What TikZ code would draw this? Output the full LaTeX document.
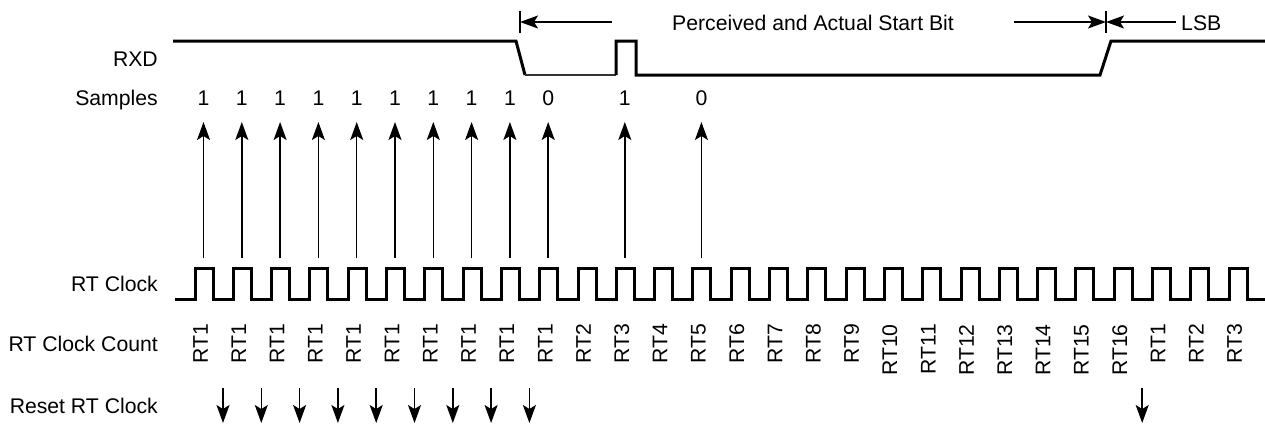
\documentclass[tikz,border=0pt]{standalone}
\usepackage{fontspec}
\setmainfont{Liberation Sans}
\usetikzlibrary{arrows.meta}
\begin{document}
\begin{tikzpicture}[x=1pt,y=-1pt,
  lbl/.style={font=\fontsize{21.2}{25}\selectfont, inner sep=0pt},
  wave/.style={line width=3pt, line join=miter},
  arr/.style={line width=1.5pt, -{Stealth[length=18pt,width=13pt,inset=4pt]}},
  tick/.style={line width=2pt},
]
\useasboundingbox (0,0) rectangle (1265,424);
\def\per{38.3}
\def\xo{195}
% row labels
\node[lbl, anchor=base east] (rxd) at (158,66.7) {RXD};
\node[lbl, anchor=base east] (smp) at (158,105) {Samples};
\node[lbl, anchor=base east] (rtc) at (158,291) {RT Clock};
\node[lbl, anchor=base east] (rtcc) at (158,351.7) {RT Clock Count};
\node[lbl, anchor=base east] (rst) at (158,413) {Reset RT Clock};
% RXD waveform
\draw[wave] (173,41) -- (516,41) -- (525,75);
\draw[line width=1.6pt, black!80] (525,75) -- (616,75);
\draw[wave] (616,75) -- (616,41) -- (636,41) -- (636,75) -- (1100,75) -- (1111,41) -- (1265,41);
% RT clock
\draw[wave] (175,299) \foreach \k in {0,...,27}{ -- ({\xo+\k*\per},299) -- ++(0,-31) -- ++(18,0) -- ++(0,31) } -- (1265,299);
% samples
\foreach \k/\v in {0/1,1/1,2/1,3/1,4/1,5/1,6/1,7/1,8/1,9/0,11/1,13/0}{
  \coordinate (sb\k) at ({\xo+\k*\per+8.5},258);
  \coordinate (st\k) at ({\xo+\k*\per+8.5},122);
  \draw[arr] (sb\k) -- (st\k);
  \node[lbl, anchor=base] (sv\k) at ({\xo+\k*\per+8.5},105) {\v};
}
% RT clock count
\foreach \k/\t in {0/1,1/1,2/1,3/1,4/1,5/1,6/1,7/1,8/1,9/1,10/2,11/3,12/4,13/5,14/6,15/7,16/8,17/9,18/10,19/11,20/12,21/13,22/14,23/15,24/16,25/1,26/2,27/3}{
  \node[lbl, rotate=90, anchor=east] (cnt\k) at ({\xo+\k*\per+5.5},324) {RT\t};
}
% reset arrows
\foreach \k in {0,...,8,24}{
  \coordinate (ra\k) at ({\xo+\k*\per+28},388);
  \coordinate (rb\k) at ({\xo+\k*\per+28},423);
  \draw[arr] (ra\k) -- (rb\k);
}
% start bit annotation
\coordinate (t1a) at (520,11); \coordinate (t1b) at (520,33);
\coordinate (t2a) at (1106,11); \coordinate (t2b) at (1106,33);
\draw[tick] (t1a) -- (t1b);
\draw[tick] (t2a) -- (t2b);
\coordinate (m1) at (520,22); \coordinate (m2) at (1106,22);
\coordinate (a1) at (612,22); \coordinate (a2) at (1014,22); \coordinate (a3) at (1176,22);
\draw[arr] (a1) -- (m1);
\draw[arr] (a2) -- (m2);
\draw[arr] (a3) -- (m2);
\node[lbl, anchor=base west] (psb) at (672,30) {Perceived and Actual Start Bit};
\node[lbl, anchor=base west] (lsb) at (1181,30) {LSB};
\end{tikzpicture}
\end{document}
